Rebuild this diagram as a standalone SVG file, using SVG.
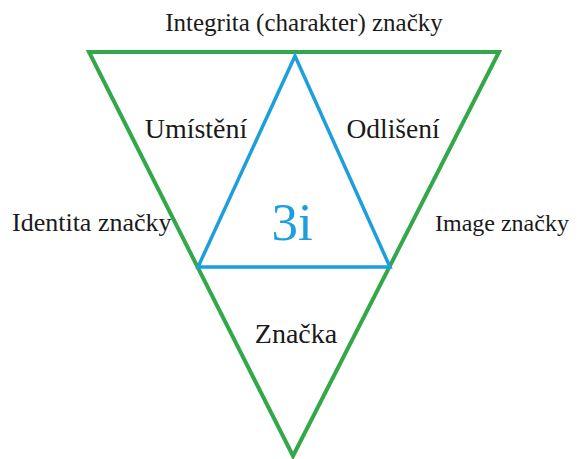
<svg xmlns="http://www.w3.org/2000/svg" width="577" height="459" viewBox="0 0 577 459">
<style>
text{font-family:"Liberation Serif","Times New Roman",serif;fill:#1a1a1a}
.g{fill:none;stroke:#33a84b;stroke-width:4;stroke-linejoin:miter}
.b{fill:none;stroke:#1c9fdc;stroke-width:3.5;stroke-linejoin:miter}
</style>
<rect width="577" height="459" fill="#fff"/>
<g id="connectors">
<polygon id="outer" class="g" points="89,52 499,52 293,456"/>
<polygon id="inner" class="b" points="295,56 198,267 390,267"/>
</g>
<g id="top"><text x="304" y="31" font-size="25" text-anchor="middle">Integrita (charakter) značky</text></g>
<g id="umisteni"><text x="196" y="138" font-size="28" text-anchor="middle">Umístění</text></g>
<g id="odliseni"><text x="393" y="138" font-size="27.5" text-anchor="middle">Odlišení</text></g>
<g id="center"><text x="292" y="240" font-size="53" text-anchor="middle" style="fill:#1c9fdc">3i</text></g>
<g id="identita"><text x="12" y="231" font-size="26">Identita značky</text></g>
<g id="image"><text x="435" y="231" font-size="24">Image značky</text></g>
<g id="znacka"><text x="296" y="343" font-size="28" text-anchor="middle">Značka</text></g>
</svg>
